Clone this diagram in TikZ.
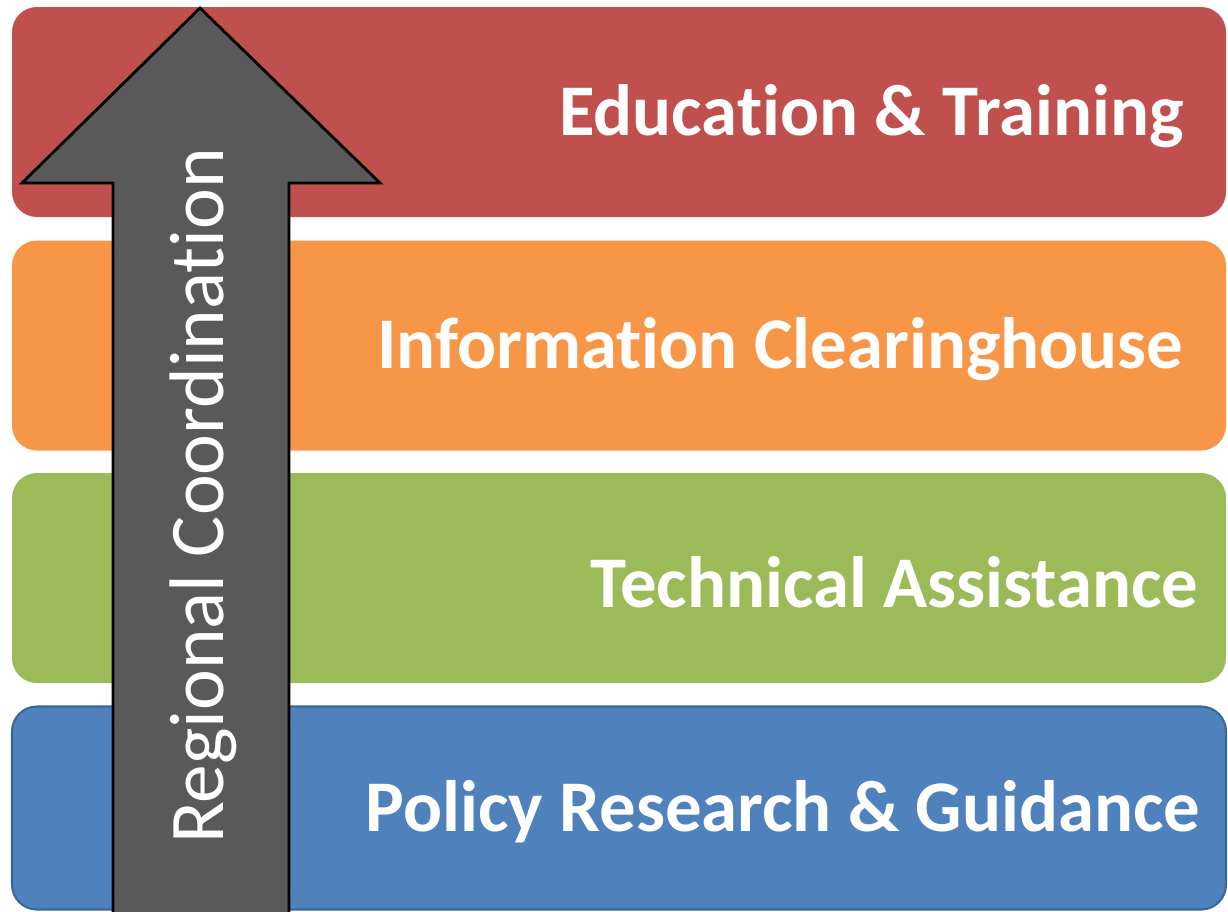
\documentclass[tikz,border=0pt]{standalone}
\usepackage{fontspec}
\setmainfont{Carlito}[Ligatures=NoCommon]
\usetikzlibrary{positioning}

\definecolor{barred}{HTML}{C0504D}
\definecolor{barorange}{HTML}{F79646}
\definecolor{bargreen}{HTML}{9BBB59}
\definecolor{barblue}{HTML}{4F81BD}
\definecolor{barblueline}{HTML}{3A6596}
\definecolor{arrowgray}{HTML}{595959}

\tikzset{
    bar/.style={rounded corners=0.25cm,minimum width=12.14cm,minimum height=2.1cm,inner sep=0pt},
    barlabel/.style={anchor=east,inner sep=0pt,text=white,font=\fontsize{20.7}{24}\selectfont\bfseries}
}

\begin{document}
\begin{tikzpicture}
    \useasboundingbox (0,0) rectangle (12.28,9.11);

    % the four bars, top to bottom
    \node[bar,fill=barred] (training) at (6.19,7.99) {};
    \node[bar,fill=barorange] (clearing) at (6.19,5.655) {};
    \node[bar,fill=bargreen] (technical) at (6.19,3.33) {};
    \node[bar,fill=barblue,draw=barblueline,line width=0.6pt,minimum height=2.03cm] (policy) at (6.19,1.03) {};

    % labels on the bars
    \node[barlabel] (trainingtext) at (11.84,7.95) {Education \& Training};
    \node[barlabel] (clearingtext) at (11.84,5.615) {Information Clearinghouse};
    \node[barlabel] (technicaltext) at (11.99,3.29) {Technical Assistance};
    \node[barlabel] (policytext) at (12.01,0.99) {Policy Research \& Guidance};

    % the arrow going up over all bars
    \draw[fill=arrowgray,line width=0.8pt] (1.13,-0.1) -- (1.13,7.28) -- (0.22,7.28)
        -- (2.00,9.03) -- (3.80,7.28) -- (2.89,7.28) -- (2.89,-0.1) -- cycle;
    \node[rotate=90,text=white,font=\fontsize{22}{26}\selectfont] (coordination) at (2.03,4.15) {Regional Coordination};
\end{tikzpicture}
\end{document}
